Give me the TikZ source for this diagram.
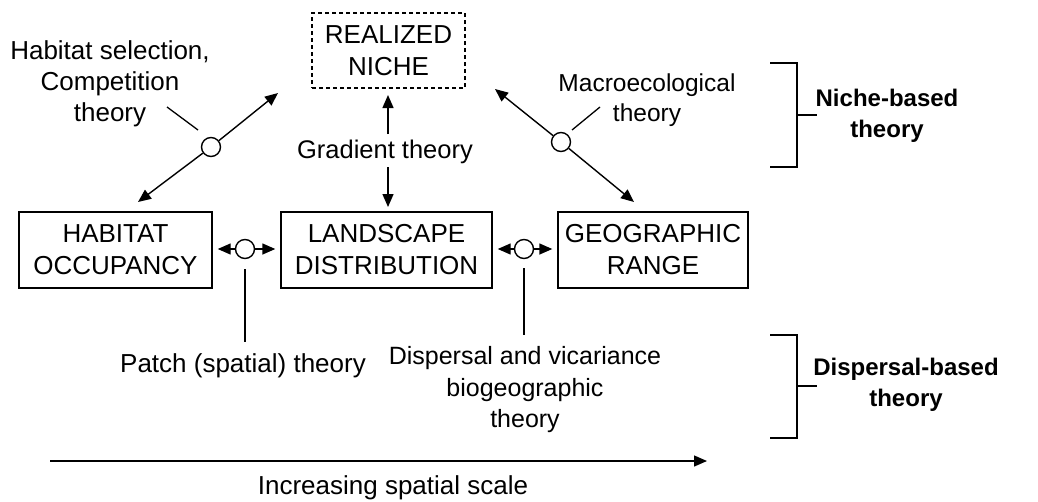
\documentclass[tikz,border=0pt]{standalone}
\usepackage{fontspec}
\setmainfont{Liberation Sans}
\usetikzlibrary{arrows.meta}
\begin{document}
\begin{tikzpicture}[x=1pt,y=-1pt,
  box/.style={draw,line width=1.4pt,align=center,inner sep=0pt,font=\fontsize{26}{32}\selectfont},
  lbl/.style={align=center,inner sep=0pt,font=\fontsize{25.5}{31}\selectfont},
  blbl/.style={align=center,inner sep=0pt,font=\fontsize{24}{31}\selectfont\bfseries},
  arr/.style={line width=1.4pt,-{Triangle[length=13pt,width=11pt]}},
  hub/.style={circle,draw,line width=1.4pt,fill=white,minimum size=19pt,inner sep=0pt},
  lead/.style={line width=1.3pt}]
\useasboundingbox (0,0) rectangle (1038,501);
% boxes
\node[box,dashed,dash pattern=on 4pt off 3pt,minimum width=153pt,minimum height=75pt] (rn) at (388.5,50.5) {REALIZED\\NICHE};
\node[box,minimum width=193pt,minimum height=76pt] (hab) at (115.5,250) {HABITAT\\OCCUPANCY};
\node[box,minimum width=211pt,minimum height=76pt] (land) at (386.5,250) {LANDSCAPE\\DISTRIBUTION};
\node[box,minimum width=190pt,minimum height=76pt] (geo) at (653,250) {GEOGRAPHIC\\RANGE};
% left diagonal
\node[hub] (c1) at (211,147) {};
\coordinate (t1a) at (138,202);
\coordinate (t1b) at (278,93);
\draw[arr] (c1) -- (t1a);
\draw[arr] (c1) -- (t1b);
\node[lbl,font=\fontsize{26}{31}\selectfont] (l1) at (110,84) {Habitat selection,\\Competition\\theory};
\coordinate (k1a) at (167,107);
\coordinate (k1b) at (198,130);
\draw[lead] (k1a) -- (k1b);
% right diagonal
\node[hub] (c2) at (561,142) {};
\coordinate (t2a) at (495,89);
\coordinate (t2b) at (634,202);
\draw[arr] (c2) -- (t2a);
\draw[arr] (c2) -- (t2b);
\node[lbl,font=\fontsize{24.5}{30}\selectfont] (l2) at (647,100.5) {Macroecological\\theory};
\coordinate (k2a) at (572,130);
\coordinate (k2b) at (600,107);
\draw[lead] (k2a) -- (k2b);
% vertical
\node[lbl] (gt) at (385,152) {Gradient theory};
\coordinate (g1) at (388,134);
\coordinate (g2) at (388,95);
\coordinate (g3) at (388,167);
\coordinate (g4) at (388,207);
\draw[arr] (g1) -- (g2);
\draw[arr] (g3) -- (g4);
% horizontal left
\node[hub] (h1) at (245,249) {};
\draw[arr,shorten >=5pt] (h1) -- (hab.east |- h1);
\draw[arr,shorten >=5pt] (h1) -- (land.west |- h1);
\coordinate (v1a) at (245,269);
\coordinate (v1b) at (245,342);
\draw[lead] (v1a) -- (v1b);
\node[lbl,font=\fontsize{26}{31}\selectfont] (pt) at (243,365.5) {Patch (spatial) theory};
% horizontal right
\node[hub] (h2) at (524,249) {};
\draw[arr,shorten >=5pt] (h2) -- (land.east |- h2);
\draw[arr,shorten >=5pt] (h2) -- (geo.west |- h2);
\coordinate (v2a) at (524,268);
\coordinate (v2b) at (524,335);
\draw[lead] (v2a) -- (v2b);
\node[lbl,font=\fontsize{25}{31.5}\selectfont] (dv) at (525,390) {Dispersal and vicariance\\biogeographic\\theory};
% brackets
\draw[lead] (770,63) -- (797,63) -- (797,167) -- (770,167);
\draw[lead] (797,115) -- (817,115);
\node[blbl] (nb) at (887,115.5) {Niche-based\\theory};
\draw[lead] (770,335) -- (797,335) -- (797,438) -- (770,438);
\draw[lead] (797,386) -- (817,386);
\node[blbl] (db) at (906,384.5) {Dispersal-based\\theory};
% scale arrow
\coordinate (s1) at (50,461);
\coordinate (s2) at (707,461);
\draw[arr] (s1) -- (s2);
\node[lbl,font=\fontsize{26}{31}\selectfont] (is) at (393,488) {Increasing spatial scale};
\end{tikzpicture}
\end{document}
